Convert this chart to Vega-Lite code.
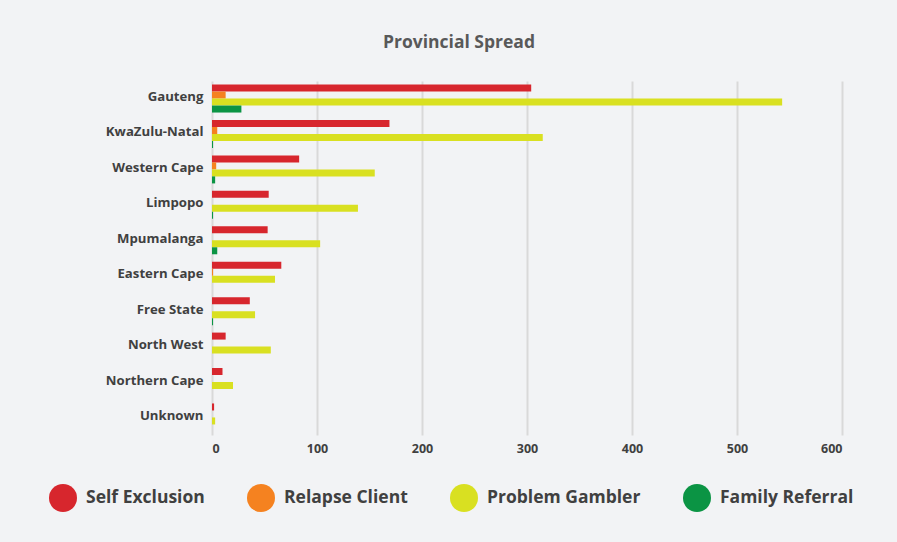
{
  "$schema": "https://vega.github.io/schema/vega-lite/v6.json",
  "width": 630,
  "height": 354,
  "autosize": {"type": "none"},
  "padding": {"left": 212, "top": 81, "right": 55, "bottom": 107},
  "background": "#f2f3f5",
  "title": {
    "text": "Provincial Spread",
    "font": "Open Sans",
    "fontSize": 17.5,
    "fontWeight": "bold",
    "color": "#595959",
    "anchor": "middle",
    "frame": "group",
    "dx": -68,
    "offset": 30
  },
  "data": {
    "values": [
      {"province": "Gauteng", "type": "Self Exclusion", "value": 304},
      {"province": "Gauteng", "type": "Relapse Client", "value": 13},
      {"province": "Gauteng", "type": "Problem Gambler", "value": 543},
      {"province": "Gauteng", "type": "Family Referral", "value": 28},
      {"province": "KwaZulu-Natal", "type": "Self Exclusion", "value": 169},
      {"province": "KwaZulu-Natal", "type": "Relapse Client", "value": 5},
      {"province": "KwaZulu-Natal", "type": "Problem Gambler", "value": 315},
      {"province": "KwaZulu-Natal", "type": "Family Referral", "value": 1},
      {"province": "Western Cape", "type": "Self Exclusion", "value": 83},
      {"province": "Western Cape", "type": "Relapse Client", "value": 4},
      {"province": "Western Cape", "type": "Problem Gambler", "value": 155},
      {"province": "Western Cape", "type": "Family Referral", "value": 3},
      {"province": "Limpopo", "type": "Self Exclusion", "value": 54},
      {"province": "Limpopo", "type": "Relapse Client", "value": 0},
      {"province": "Limpopo", "type": "Problem Gambler", "value": 139},
      {"province": "Limpopo", "type": "Family Referral", "value": 1},
      {"province": "Mpumalanga", "type": "Self Exclusion", "value": 53},
      {"province": "Mpumalanga", "type": "Relapse Client", "value": 0},
      {"province": "Mpumalanga", "type": "Problem Gambler", "value": 103},
      {"province": "Mpumalanga", "type": "Family Referral", "value": 5},
      {"province": "Eastern Cape", "type": "Self Exclusion", "value": 66},
      {"province": "Eastern Cape", "type": "Relapse Client", "value": 1},
      {"province": "Eastern Cape", "type": "Problem Gambler", "value": 60},
      {"province": "Eastern Cape", "type": "Family Referral", "value": 0},
      {"province": "Free State", "type": "Self Exclusion", "value": 36},
      {"province": "Free State", "type": "Relapse Client", "value": 0},
      {"province": "Free State", "type": "Problem Gambler", "value": 41},
      {"province": "Free State", "type": "Family Referral", "value": 1},
      {"province": "North West", "type": "Self Exclusion", "value": 13},
      {"province": "North West", "type": "Relapse Client", "value": 0},
      {"province": "North West", "type": "Problem Gambler", "value": 56},
      {"province": "North West", "type": "Family Referral", "value": 0},
      {"province": "Northern Cape", "type": "Self Exclusion", "value": 10},
      {"province": "Northern Cape", "type": "Relapse Client", "value": 0},
      {"province": "Northern Cape", "type": "Problem Gambler", "value": 20},
      {"province": "Northern Cape", "type": "Family Referral", "value": 0},
      {"province": "Unknown", "type": "Self Exclusion", "value": 2},
      {"province": "Unknown", "type": "Relapse Client", "value": 0},
      {"province": "Unknown", "type": "Problem Gambler", "value": 3},
      {"province": "Unknown", "type": "Family Referral", "value": 0}
    ]
  },
  "mark": {"type": "bar"},
  "encoding": {
    "y": {
      "field": "province",
      "type": "nominal",
      "sort": ["Gauteng", "KwaZulu-Natal", "Western Cape", "Limpopo", "Mpumalanga", "Eastern Cape", "Free State", "North West", "Northern Cape", "Unknown"],
      "scale": {"paddingInner": 0.21, "paddingOuter": 0.1},
      "axis": {
        "title": null,
        "domain": false,
        "ticks": false,
        "labelPadding": 9,
        "labelOffset": -1.5,
        "labelFont": "Open Sans",
        "labelFontSize": 13.2,
        "labelFontWeight": "bold",
        "labelColor": "#404040"
      }
    },
    "yOffset": {
      "field": "type",
      "type": "nominal",
      "sort": ["Self Exclusion", "Relapse Client", "Problem Gambler", "Family Referral"],
      "scale": {"paddingInner": 0, "paddingOuter": 0}
    },
    "x": {
      "field": "value",
      "type": "quantitative",
      "scale": {"domain": [0, 600], "nice": false},
      "axis": {
        "title": null,
        "domain": false,
        "ticks": false,
        "values": [0, 100, 200, 300, 400, 500, 600],
        "gridColor": "#d9d9d9",
        "gridWidth": 2,
        "labelPadding": 7,
        "labelFont": "Open Sans",
        "labelFontSize": 12.5,
        "labelFontWeight": "bold",
        "labelColor": "#404040"
      }
    },
    "color": {
      "field": "type",
      "type": "nominal",
      "scale": {
        "domain": ["Self Exclusion", "Relapse Client", "Problem Gambler", "Family Referral"],
        "range": ["#d7262d", "#f58220", "#d9e021", "#0b9444"]
      },
      "legend": {
        "title": null,
        "orient": "none",
        "legendX": -163,
        "legendY": 403,
        "direction": "horizontal",
        "columns": 4,
        "columnPadding": 42,
        "symbolType": "circle",
        "symbolSize": 784,
        "symbolStrokeWidth": 0,
        "labelOffset": 9,
        "labelFont": "Open Sans",
        "labelFontSize": 17.5,
        "labelFontWeight": "bold",
        "labelColor": "#404040",
        "labelLimit": 300
      }
    }
  },
  "config": {
    "view": {"stroke": null}
  }
}
